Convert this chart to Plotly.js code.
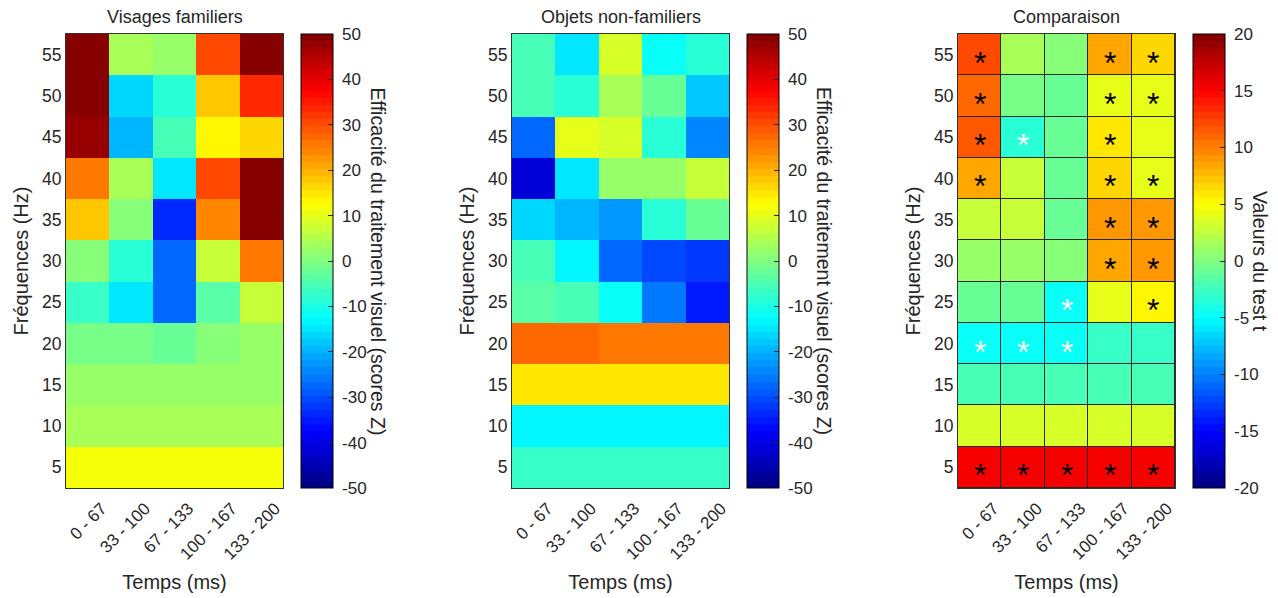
<!DOCTYPE html>
<html>
<head>
<meta charset="utf-8">
<script src="https://cdn.plot.ly/plotly-3.0.1.min.js"></script>
<style>html,body{margin:0;padding:0;background:#fff;}#chart{width:1278px;height:598px;}</style>
</head>
<body>
<div id="chart"></div>
<script>
// ---------- data ----------
const timeLabels = ['0 - 67', '33 - 100', '67 - 133', '100 - 167', '133 - 200'];
const freqs = [5, 10, 15, 20, 25, 30, 35, 40, 45, 50, 55];

// rows ordered by frequency ascending (5 Hz ... 55 Hz)
const visagesFamiliers = [
  [11, 11, 11, 11, 11],
  [4, 4, 4, 4, 4],
  [3, 3, 3, 3, 3],
  [-1, -1, -2, 1, 2.5],
  [-7.5, -15.5, -27.5, -4, 7.5],
  [0, -9, -27.5, 7.5, 25],
  [17.5, 1, -33, 24, 55],
  [25, 4.5, -15.5, 30, 55],
  [47.5, -19, -6, 14, 16],
  [55, -17, -9, 17.5, 33],
  [55, 4.5, 3, 30, 55]
];

const objetsNonFamiliers = [
  [-7.5, -7.5, -7.5, -7.5, -7.5],
  [-14, -14, -14, -14, -14],
  [15.5, 15.5, 15.5, 15.5, 15.5],
  [28, 27, 25, 25, 25],
  [-3.5, -6, -11, -26, -35],
  [-6, -14, -27, -30.5, -32],
  [-17, -19, -22, -9, -2],
  [-41, -15, 2, 2, 7.5],
  [-27.5, 9.5, 9, -9, -24],
  [-6, -9, 4.5, -2.5, -17.5],
  [-6, -15.5, 8, -12.5, -9]
];

const comparaison = [
  [15, 15, 15, 15, 15],
  [3.2, 3.2, 3.2, 3.2, 3.2],
  [-2, -2, -2, -2, -2],
  [-5, -5, -5, -3, -3],
  [-0.8, -1.2, -4.5, 3.8, 5],
  [1, 1, 0, 8.4, 8.8],
  [2.8, 2.7, -0.9, 9, 9],
  [8.3, 3, -0.9, 6.3, 4.2],
  [11.4, -3.6, -0.9, 6, 3.8],
  [11.2, -0.4, -0.9, 4.3, 4.3],
  [12, 1.8, 0, 8.5, 6.5]
];

// significance marks: 0 none, 1 black star, 2 white star
const significance = [
  [1, 1, 1, 1, 1],
  [0, 0, 0, 0, 0],
  [0, 0, 0, 0, 0],
  [2, 2, 2, 0, 0],
  [0, 0, 2, 0, 1],
  [0, 0, 0, 1, 1],
  [0, 0, 0, 1, 1],
  [1, 0, 0, 1, 1],
  [1, 2, 0, 1, 0],
  [1, 0, 0, 1, 1],
  [1, 0, 0, 1, 1]
];

const panelTitles = ['Visages familiers', 'Objets non-familiers', 'Comparaison'];
const cbTitles = ['Efficacité du traitement visuel (scores Z)', 'Efficacité du traitement visuel (scores Z)', 'Valeurs du test t'];
const cbTickValues = [
  [-50, -40, -30, -20, -10, 0, 10, 20, 30, 40, 50],
  [-50, -40, -30, -20, -10, 0, 10, 20, 30, 40, 50],
  [-20, -15, -10, -5, 0, 5, 10, 15, 20]
];
const colorRanges = [[-50, 50], [-50, 50], [-20, 20]];

// ---------- styling helpers ----------
function jet(t) {
  const c = v => Math.round(255 * Math.max(0, Math.min(1, v)));
  return 'rgb(' + c(1.5 - Math.abs(4 * t - 3)) + ',' + c(1.5 - Math.abs(4 * t - 2)) + ',' + c(1.5 - Math.abs(4 * t - 1)) + ')';
}
const N = 64;
const jetScale = [];
for (let i = 0; i < N; i++) {
  const col = jet((i + 0.5) / N);
  jetScale.push([i / N, col]);
  jetScale.push([(i + 1) / N, col]);
}

const W = 1278, H = 598;
const FONT = 'Liberation Sans, Arial, sans-serif';
const TXT = '#262626';
const plotLeft = [66, 512, 958];
const plotWidth = 217;
const plotTop = 34, plotBottom = 488;
const cbLeft = [300.5, 747, 1193];
const cbThick = 32;
const xIdx = timeLabels.map((_, i) => i + 1);

const yDom = [1 - plotBottom / H, 1 - plotTop / H];
const datasets = [visagesFamiliers, objetsNonFamiliers, comparaison];

const traces = [];
const layout = {
  width: W, height: H,
  margin: {l: 0, r: 0, t: 0, b: 0},
  paper_bgcolor: '#ffffff',
  plot_bgcolor: '#262626',
  font: {family: FONT, color: TXT, size: 17},
  showlegend: false,
  annotations: []
};

for (let p = 0; p < 3; p++) {
  const xa = p === 0 ? 'x' : 'x' + (p + 1);
  const ya = p === 0 ? 'y' : 'y' + (p + 1);
  traces.push({
    type: 'heatmap',
    x: xIdx, y: freqs, z: datasets[p],
    xaxis: xa, yaxis: ya,
    zmin: colorRanges[p][0], zmax: colorRanges[p][1],
    colorscale: jetScale,
    zsmooth: false,
    xgap: p === 2 ? 1 : 0, ygap: p === 2 ? 1 : 0,
    hoverinfo: 'x+y+z',
    colorbar: {
      x: cbLeft[p] / W, xanchor: 'left', xref: 'paper',
      y: yDom[1], yanchor: 'top', yref: 'paper',
      len: yDom[1] - yDom[0], lenmode: 'fraction',
      thickness: cbThick, thicknessmode: 'pixels',
      xpad: 0, ypad: 0,
      outlinewidth: 1, outlinecolor: '#000',
      tickmode: 'array', tickvals: cbTickValues[p],
      ticktext: cbTickValues[p].map(v => ' ' + String(v)),
      ticks: 'inside', ticklen: 5, tickcolor: '#262626', tickwidth: 1,
      tickfont: {family: FONT, size: 17, color: TXT}
    }
  });
  const xKey = p === 0 ? 'xaxis' : 'xaxis' + (p + 1);
  const yKey = p === 0 ? 'yaxis' : 'yaxis' + (p + 1);
  layout[xKey] = {
    domain: [plotLeft[p] / W, (plotLeft[p] + plotWidth) / W],
    anchor: ya,
    range: [0.5, 5.5],
    tickmode: 'array', tickvals: xIdx, ticktext: timeLabels,
    tickangle: -45,
    ticklabelshift: 14, ticklabelstandoff: 3,
    ticks: '', showgrid: false, zeroline: false,
    showline: true, mirror: true, linecolor: '#333', linewidth: 1,
    tickfont: {family: FONT, size: 17, color: TXT},
    title: {text: 'Temps (ms)', font: {family: FONT, size: 20, color: TXT}, standoff: 12},
    automargin: false, fixedrange: true
  };
  layout[yKey] = {
    domain: yDom,
    anchor: xa,
    range: [2.5, 57.5],
    tickmode: 'array', tickvals: freqs,
    ticks: '', showgrid: false, zeroline: false,
    showline: true, mirror: true, linecolor: '#333', linewidth: 1,
    tickfont: {family: FONT, size: 17.5, color: TXT},
    title: {text: 'Fréquences (Hz)', font: {family: FONT, size: 20, color: TXT}, standoff: 8},
    automargin: false, fixedrange: true
  };
  // panel title
  layout.annotations.push({
    xref: 'paper', yref: 'paper',
    x: (plotLeft[p] + plotWidth / 2) / W, y: 1 - 17 / H,
    xanchor: 'center', yanchor: 'middle',
    text: panelTitles[p], showarrow: false,
    font: {family: FONT, size: 18, color: TXT}
  });
  // colorbar title
  layout.annotations.push({
    xref: 'paper', yref: 'paper',
    x: (cbLeft[p] + (p === 2 ? 67 : 77)) / W, y: (yDom[0] + yDom[1]) / 2,
    xanchor: 'center', yanchor: 'middle',
    text: cbTitles[p], showarrow: false, textangle: 90,
    font: {family: FONT, size: 19.6, color: TXT}
  });
}

// significance stars on the comparison panel
for (let r = 0; r < freqs.length; r++) {
  for (let c = 0; c < timeLabels.length; c++) {
    const s = significance[r][c];
    if (!s) continue;
    layout.annotations.push({
      xref: 'x3', yref: 'y3', x: xIdx[c], y: freqs[r],
      text: '*', showarrow: false,
      xanchor: 'center', yanchor: 'middle', yshift: -8,
      font: {family: FONT, size: 32, color: s === 1 ? '#000000' : '#ffffff'}
    });
  }
}

Plotly.newPlot('chart', traces, layout, {displayModeBar: false, staticPlot: true});
</script>
</body>
</html>
